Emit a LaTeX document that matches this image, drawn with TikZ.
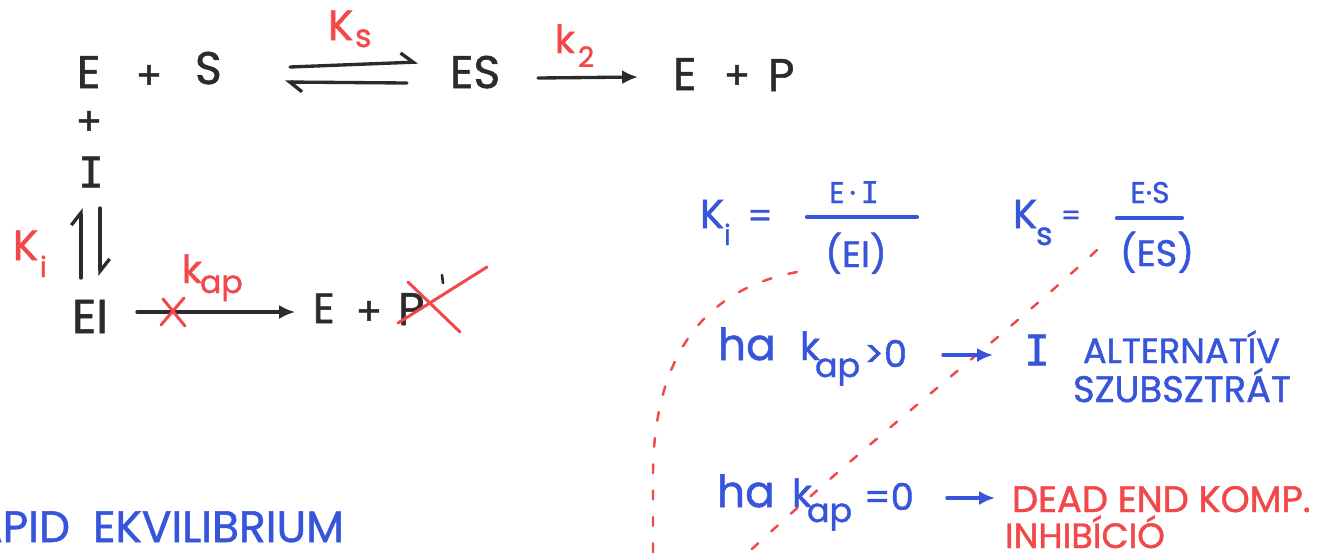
\documentclass[tikz,border=0pt]{standalone}
\usepackage{fontspec}
\setmainfont{Poppins}[FakeBold=1.2]
\newfontfamily\monof{DejaVu Sans Mono}[FakeBold=1.2]
\usetikzlibrary{arrows.meta,calc}
\definecolor{ink}{RGB}{45,42,45}
\definecolor{rd}{RGB}{242,72,74}
\definecolor{bl}{RGB}{55,85,218}
\newcommand\fz[1]{\fontsize{#1}{#1}\selectfont}
\begin{document}
\begin{tikzpicture}[x=0.02cm,y=-0.02cm,
  txt/.style={anchor=base west,inner sep=0pt,outer sep=0pt},
  blk/.style={txt,text=ink},
  rtxt/.style={txt,text=rd},
  btxt/.style={txt,text=bl},
  harp/.style={draw=ink,line width=1.9pt,line cap=round,-{Straight Barb[left,length=7pt,width=11pt]}},
  karrow/.style={draw=ink,line width=1.9pt,line cap=round,-{Latex[length=9pt,width=8pt]}},
  barrow/.style={draw=bl,line width=2pt,line cap=round,-{Latex[length=9pt,width=8pt]}},
  rline/.style={draw=rd,line width=1.7pt,line cap=round},
  rdash/.style={draw=rd,line width=1.4pt,line cap=round,dash pattern=on 5pt off 10pt},
  fbar/.style={draw=bl,line width=2.4pt,line cap=round}]
\useasboundingbox (0,0) rectangle (1321,556);
\clip (0,0) rectangle (1321,556);
\fill[white] (0,0) rectangle (1321,556);

% dashed red curves
\draw[rdash] (797,272) .. controls (700,290) and (655,360) .. (653,470) -- (653,560);
\draw[rdash] (1097,250) .. controls (1000,340) and (880,430) .. (740,560);

% top reaction
\node[blk,font=\fz{26}] (E1) at (77,88) {E};
\node[blk,font=\fz{22},anchor=center] (pA) at (149,77) {+};
\node[blk,font=\fz{26}] (S1) at (195,84) {S};
\node[blk,font=\fz{26}] (ES) at (450,88) {ES};
\node[blk,font=\fz{26}] (E2) at (673,90) {E};
\node[blk,font=\fz{22},anchor=center] (pB) at (737,77) {+};
\node[blk,font=\fz{26}] (P1) at (768,91) {P};
\node[rtxt,font=\fz{24}] (KsK) at (328,40) {K};
\node[rtxt,font=\fz{18}] (KsS) at (355,47) {s};
\node[rtxt,font=\fz{22}] (k2k) at (555,53) {k};
\node[rtxt,font=\fz{16}] (k2n) at (578,67) {2};
\draw[harp] ($(S1.base west)+(95,-17)$) -- ($(ES.base west)+(-32,-26)$);
\draw[harp] ($(ES.base west)+(-43,-5)$) -- ($(S1.base west)+(90,-2)$);
\draw[karrow] ($(ES.base west)+(88,-10)$) -- ($(E2.base west)+(-35,-13)$);

% vertical branch
\node[blk,font=\fz{22},anchor=center] (pV) at (89,123) {+};
\node[blk,font=\fz{24}\monof,anchor=center] (I1) at (91,172) {I};
\node[blk,font=\fz{27}] (EI) at (72,333) {EI};
\node[rtxt,font=\fz{24}] (KiK) at (13,260) {K};
\node[rtxt,font=\fz{16}] (Kii) at (40,277) {i};
\draw[harp] ($(EI.base west)+(9,-55)$) -- ($(I1.center)+(-10,36)$);
\draw[harp] ($(I1.center)+(9,36)$) -- ($(EI.base west)+(28,-57)$);

% EI -> E + P
\node[blk,font=\fz{24}] (E3) at (313,323) {E};
\node[blk,font=\fz{22},anchor=center] (pC) at (369,313) {+};
\node[blk,font=\fz{26}] (P2) at (398,325) {P};
\node[rtxt,font=\fz{22}] (kapk) at (182,283) {k};
\node[rtxt,font=\fz{18}] (kapap) at (200,293) {ap};
\draw[karrow] ($(EI.base west)+(65,-21)$) -- ($(E3.base west)+(-18,-11)$);
\draw[rline] (163,299) -- (185,326);
\draw[rline] (161,325) -- (184,298);
\draw[rline] (408,282) -- (460,332);
\draw[rline] (398,323) -- (487,267);
\draw[draw=ink,line width=1.5pt,line cap=round] (442,275) -- (443,283);

% constants
\node[btxt,font=\fz{23}] (KiBK) at (700,228) {K};
\node[btxt,font=\fz{16}] (KiBi) at (724,245) {i};
\node[btxt,font=\fz{20},anchor=center] (eq1) at (760,219) {=};
\node[btxt,font=\fz{17},anchor=base] (num1) at (854,203) {E\,·\,{\monof I}};
\node[btxt,font=\fz{21},anchor=base] (den1) at (856,267) {(EI)};
\draw[fbar] (807,217) -- (917,217);
\node[btxt,font=\fz{23}] (KsBK) at (1013,228) {K};
\node[btxt,font=\fz{18}] (KsBs) at (1036,245) {s};
\node[btxt,font=\fz{16},anchor=center] (eq2) at (1071,218) {=};
\node[btxt,font=\fz{17},anchor=base] (num2) at (1150,203) {E·S};
\node[btxt,font=\fz{21},anchor=base] (den2) at (1157,266) {(ES)};
\draw[fbar] (1117,218) -- (1182,218);

% row 1
\node[btxt,font=\fz{25}] (ha1) at (718,360) {ha};
\node[btxt,font=\fz{22}] (k1) at (800,360) {k};
\node[btxt,font=\fz{19}] (ap1) at (815,377) {ap};
\node[btxt,font=\fz{21}] (gt) at (864,367) {>0};
\node[btxt,font=\fz{24}\monof,anchor=center] (I2) at (1037,350) {I};
\node[btxt,font=\fz{20}] (alt) at (1083,363) {ALTERNATÍV};
\node[btxt,font=\fz{21}] (szub) at (1073,402) {SZUBSZTRÁT};
\draw[barrow] ($(gt.base west)+(79,-12)$) -- ($(I2.center)+(-44,5)$);

% row 2
\node[btxt,font=\fz{25}] (ha2) at (717,507) {ha};
\node[btxt,font=\fz{22}] (k2b) at (792,507) {k};
\node[btxt,font=\fz{19}] (ap2) at (807,522) {ap};
\node[btxt,font=\fz{21}] (eqz) at (864,510) {=0};
\node[rtxt,font=\fz{21},text depth=0pt] (dead) at (1012,512) {DEAD END KOMP.};
\node[rtxt,font=\fz{20},text depth=0pt,text height=10pt] (inhib) at (1005,548) {INHIBÍCIÓ};
\draw[barrow] ($(eqz.base west)+(83,-12)$) -- ($(dead.base west)+(-17,-14)$);

% bottom left
\node[btxt,font=\fz{25}] (ekv) at (93,542) {EKVILIBRIUM};
\node[btxt,font=\fz{25},anchor=base east] (rapid) at (70,542) {RAPID};
\end{tikzpicture}
\end{document}
